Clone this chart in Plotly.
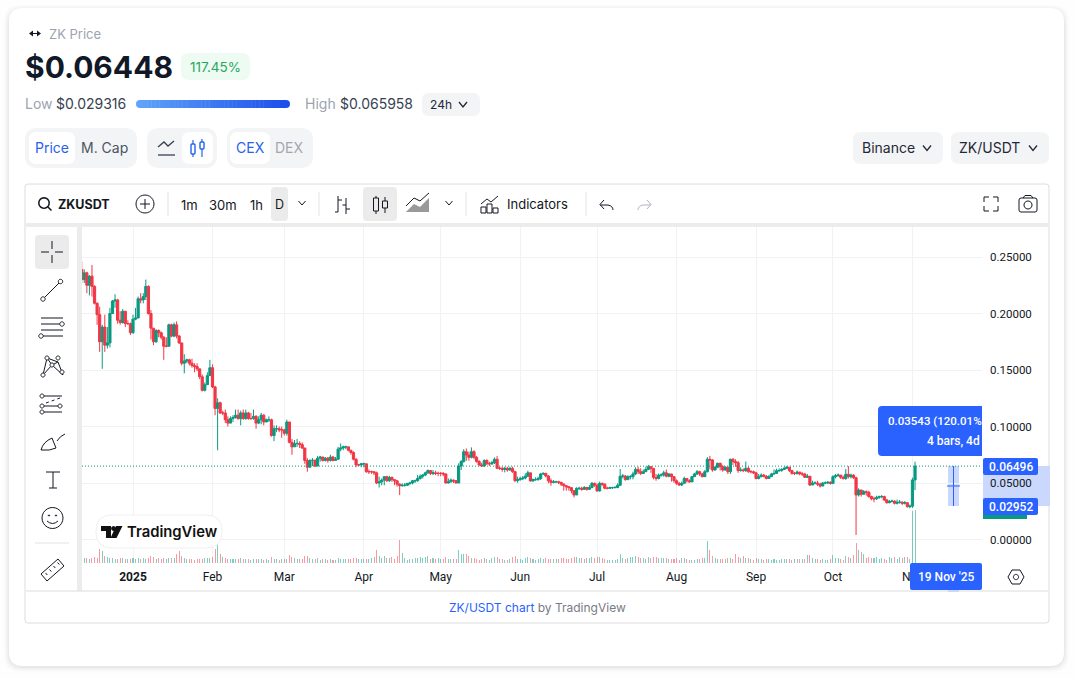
import re, math
import numpy as np
import pandas as pd
import plotly.graph_objects as go

W, H = 1077, 678

# ---------- data (prices in thousandths of USDT, daily candles) ----------
START_DATE = "2024-12-12"
FIRST_OPEN = 239
closes = [
230,236,225,233,224,209,199,175,188,172, 174,200,211,212,194,192,202,191,191,183,
195,196,213,212,215,224,200,187,175,185, 183,179,171,171,190,180,190,180,174,156,
158,159,156,154,153,151,144,132,137,145, 152,135,116,121,112,112,106,103,107,108,
110,107,112,107,112,107,107,109,103,106, 110,104,106,106,92,98,98,97,97,94,
104,86,82,85,85,84,81,70,64,70, 70,65,72,73,70,72,70,73,70,71,
80,81,82,82,79,77,71,66,66,67, 67,60,60,60,59,50,51,52.6,55.6,52,
55,53,52,49,47.6,48,48,49.7,50,52, 52,54,56,57,59,61,58.5,59,58.5,58.5,
58.5,58,50,51,52.6,52,50,65,69,77.7, 74.7,72.7,77.7,72.7,69,66,65,70,67,67,
68,71,63,63,62,63,61.5,63,60,52, 53,53.8,54.4,56,59,51.8,53,53,54,58,
58.5,56.2,52,50.6,51,51,50.6,49,47.6,46.7, 45.9,43.2,39.4,45.3,45.3,44.4,46,44.4,46,49.7,
48,43,49.7,49,45.3,45.3,45.9,45.9,46,48, 56,56.2,53,55.6,55.6,58,62,60,58.5,60,
62,64.4,63,55,54,57,57,59,56,58, 55.6,52,49.7,48.2,49.7,54,52,51,55.6,58,
60,58,55.6,60,71,70.4,61.5,63.9,67.4,64.4, 61.5,63.9,60,71,68.9,68,61,61.5,61,63,
60,60,59,54,55.6,57,56,54,55.6,58, 58.5,61,61,62,63,64,61,58.5,58.5,59.7,
58,58,55,56,48.2,50,50,49,47.3,50, 50,50.6,49.7,55.6,56.5,57,55,54,57.7,55.6,
57,54.7,39.4,43.8,40,42.3,41.8,38,36,36, 37.3,38,38,35,32.6,33.5,34,32,32.9,33,
32,32.6,29,29.5,52.7,65]
highs = [
246,239,237,234,243,225,210,206,190,199, 188,205,212,217,213,202,204,202,194,192,
199,205,215,218,218,230,225,203,187,186, 186,184,180,179,191,191,192,193,181,173,
164,160,160,160,156,156,150,146,139,148, 159,155,136,125,122,114,115,109,109,110,
115,115,114,115,115,113,112,115,110,109, 112,111,107,109,107,101,101,100,100,98,
106,104,89,88,89,87,86,81,72,71, 72,71,74,74,73,73,73,75,74,73,
82,85,83,83,82,79,78,72,67,67, 68,66,62,61,60,60,55.6,54,56,56.4,
56.4,55.6,53,52,49.7,49.7,50,50,51,52.6, 53,57,57.6,58,60,62,61.5,61.5,60.9,60,
59.7,59.7,58.5,54,54,53,52.6,67.4,70.3,80, 80.6,77.7,81.5,79,73.8,70.3,68,70.9,70.9,68.8,
69.7,72.7,73.8,64.4,64.4,64.4,64.4,64.4,64.4,60.9, 55.6,55.6,56.2,58.5,60.9,58.5,54,55,55.6,59,
59.4,59,57,54,52.6,52,52,51,49.7,48.2, 47.3,46,43.2,46.2,46.7,46.7,47.3,46.7,48.2,50.9,
50.3,49.7,51.2,50.3,49.7,46.7,46.7,46.7,47.3,49.7, 62.4,58,57,56.8,57,60,63.9,64.4,63,62,
64.4,66,65,63,58,58.5,58.5,60.9,62,58.5, 58,56.2,53.2,51,51.2,55.6,54,53.2,56.2,59,
61.5,60.9,59,61.5,73,74,71,65,68,68, 66,65,64.4,71.5,72,71,69.5,63.9,63,69,
64.4,61.5,61,60,58,58.5,58,57,57,59, 62,62.7,63,63,64.4,65,64,61.5,59.7,61,
59.7,59.7,59,58,56,52,51.5,52,50.3,51, 51.5,51.8,51.5,56.8,58,58.5,57,56.5,62.4,65,
58.3,57.7,55.6,45.3,43,43.8,43.5,43,38.8,38, 38.8,38.8,39.4,38.8,35.9,35,35.3,34.7,35.3,35,
34,34,32.6,31,54.7,68.9]
lows = [
227,227,218,216,215,208,190,166,151,166, 169,170,200,205,191,190,191,188,190,181,
182,194,197,209,209,212,199,177,172,174, 179,177,159,170,171,179,179,178,173,154,
147,156,154,152,148,149,142,131,131,137, 145,134,110,79,111,110,103,100,103,104,
107,106,101,106,106,106,106,106,98,102, 102,101,104,104,91,87,95,95,90,92,
92,85,75,82,82,81,80,67,60,64, 65,64,65,69,69,69,68,69,69,70,
71,78,79,80,78,75,70,64,65,64, 64,59,58,58,57,49,46,48,48,51,
51,51,48,46.7,39.3,46.7,46.7,47.3,48,48.8, 50,51,53,54,56,58,57,57,57,56,
56,56,49.7,49.7,50.5,50,49.7,50,61.5,68, 69.7,69.7,71.8,70.9,68,65,64.4,64.4,65.9,65,
65.9,66.8,62.3,61.5,60,59.4,60,60.9,59,51, 50.2,52,52.6,53.2,55.6,51.2,51.2,52,52,52.6,
57,55,49.7,47.6,49.7,50.3,49,47.3,43.2,43.2, 43.2,40.8,37.3,39.4,43.8,43.2,43.8,43.2,43.8,45.3,
46.7,42.3,42.3,47.3,44.4,44.4,44.7,44.7,45.3,45.3, 47.3,54,52,53.2,53.2,53.2,57,58,57,58,
60,61.5,59,53.2,52,53.2,55.6,55.6,55,55, 51.2,50.3,48.2,47.3,47.3,49.7,50.3,50.3,50.9,55.6,
57,56.2,55,55.6,59.4,62,60,61,63,61, 60,61,58,58,66,64.4,59,60,59.7,59.7,
59,58.5,58,53.2,53.2,55,55,53.2,54,55.6, 57,58,59.7,60,61.5,62.7,59.7,57.4,57,57.4,
56.8,56.2,54.4,54.4,47.3,48.2,48.8,47.3,46,48.2, 49,49,48.5,49,54,55.6,53.6,53,52.7,54,
54,53.6,4,38,38,40,38.8,37,34.7,33, 35,35.9,36.5,34,31.7,32,33,31,31,31.7,
30.5,31,28.2,27.6,28,43.8]
volumes = [
4,5,5,4,5,6,5,14,12,7, 6,5,5,4,4,5,5,4,4,4, 5,4,5,4,5,4,5,7,6,4, 5,4,5,4,5,5,5,9,12,7,
5,4,4,4,3,4,4,4,5,5, 5,6,14,19,9,6,5,4,4,4, 4,4,5,4,4,4,3,4,4,4, 4,3,4,3,6,4,4,3,4,4,
4,8,6,5,4,4,4,7,7,5, 4,4,5,3,4,4,3,4,3,3, 5,4,4,4,4,4,5,5,4,4, 4,4,4,5,6,13,7,5,7,5,
5,6,4,7,23,10,5,3,4,4, 5,5,6,5,6,7,4,5,4,5, 4,4,6,4,4,4,4,13,9,9, 9,7,5,5,4,3,4,5,4,3,
5,6,6,4,4,3,3,4,6,7, 4,4,3,5,6,5,4,3,4,5, 4,5,4,4,4,4,4,5,5,4, 4,5,6,6,5,5,4,5,5,6,
5,6,6,5,4,3,3,3,3,4, 9,5,4,5,6,6,7,6,5,5, 4,6,5,6,6,5,5,5,5,4, 4,4,5,3,5,5,4,3,3,3,
4,4,5,5,22,13,7,5,4,4, 4,4,5,5,4,9,6,5,7,5, 5,4,3,5,4,4,3,4,4,3, 4,3,3,4,4,4,4,3,4,4,
4,4,4,8,8,5,4,4,3,4, 3,3,4,8,5,5,4,3,7,6, 5,8,20,13,11,9,5,6,5,5, 6,4,5,4,3,6,5,6,4,6,
5,6,6,4,52,53]
LAST_PRICE = 0.06496
price_ticks = [0.0, 0.05, 0.10, 0.15, 0.20, 0.25]
month_ticks = ["2025-01-01","2025-02-01","2025-03-01","2025-04-01","2025-05-01","2025-06-01",
               "2025-07-01","2025-08-01","2025-09-01","2025-10-01","2025-11-01"]
month_labels = ["<b>2025</b>","Feb","Mar","Apr","May","Jun","Jul","Aug","Sep","Oct","Nov"]

c = np.array(closes, float) / 1000
h = np.array(highs, float) / 1000
l = np.array(lows, float) / 1000
o = np.concatenate([[FIRST_OPEN / 1000], c[:-1]])
h = np.maximum(h, np.maximum(o, c)); l = np.minimum(l, np.minimum(o, c))
dates = pd.date_range(START_DATE, periods=len(c), freq="D")

# ---------- pixel helpers for page chrome ----------
fx = lambda x: x / W
fy = lambda y: 1 - y / H
shapes, notes = [], []

def P(d):
    out, isx = [], True
    for t in re.findall(r"[A-Za-z]|-?\d+\.?\d*", d):
        if t.isalpha():
            out.append(t); isx = True
        else:
            out.append(f"{fx(float(t)):.5f}" if isx else f"{fy(float(t)):.5f}")
            isx = not isx
    return " ".join(out)

def poly(d, fill=None, line=None, w=1, layer="below"):
    shapes.append(dict(type="path", xref="paper", yref="paper", path=P(d), layer=layer,
                       fillcolor=fill or "rgba(0,0,0,0)",
                       line=dict(color=line or "rgba(0,0,0,0)", width=w if line else 0)))

def rect(x0, y0, x1, y1, fill=None, line=None, w=1, layer="below"):
    poly(f"M {x0} {y0} L {x1} {y0} L {x1} {y1} L {x0} {y1} Z", fill, line, w, layer)

def rr(x0, y0, x1, y1, r, fill=None, line=None, w=1, layer="below"):
    poly(f"M {x0+r} {y0} L {x1-r} {y0} Q {x1} {y0} {x1} {y0+r} L {x1} {y1-r} Q {x1} {y1} {x1-r} {y1} "
         f"L {x0+r} {y1} Q {x0} {y1} {x0} {y1-r} L {x0} {y0+r} Q {x0} {y0} {x0+r} {y0} Z", fill, line, w, layer)

def ln(x0, y0, x1, y1, color="#131722", w=1, layer="below", dash=None):
    s = dict(type="line", xref="paper", yref="paper", x0=fx(x0), y0=fy(y0), x1=fx(x1), y1=fy(y1),
             layer=layer, line=dict(color=color, width=w))
    if dash: s["line"]["dash"] = dash
    shapes.append(s)

def circ(cx, cy, r, fill=None, line="#131722", w=1, layer="below"):
    pts = [(cx + r * math.cos(a * math.pi / 12), cy + r * math.sin(a * math.pi / 12)) for a in range(24)]
    poly("M " + " L ".join(f"{a:.2f} {b:.2f}" for a, b in pts) + " Z", fill, line, w, layer)

def chev(cx, cy, color="#374151", dx=4, dy=2.5, w=1.3):
    poly(f"M {cx-dx} {cy-dy} L {cx} {cy+dy} L {cx+dx} {cy-dy}", None, color, w)

def T(x, y, text, size=13, color="#131722", anchor="left", font="Inter", weight=None):
    f = dict(family=font, size=size, color=color)
    if weight: f["weight"] = weight
    notes.append(dict(xref="paper", yref="paper", x=fx(x), y=fy(y), text=text, showarrow=False,
                      xanchor=anchor, yanchor="middle", font=f, borderpad=0, borderwidth=0))

GREY_BTN = "#f3f4f6"; BLUE = "#2563eb"; TV_BLUE = "#2962ff"; INK = "#131722"; HL = "#ebebeb"
PAGE = "#fefefe"

# ---------- card ----------
for i, a in enumerate([0.010, 0.012, 0.016, 0.020, 0.024]):
    g = 5 - i
    rr(9 - g, 8 - g + 2, 1064 + g, 666 + g + 1, 16, f"rgba(0,0,0,{a})")
rr(9, 8, 1064, 666, 14, "#ffffff")

# ---------- header ----------
poly("M 29 33.5 L 33 30.5 L 33 36.5 Z", "#111827"); poly("M 41 33.5 L 37 30.5 L 37 36.5 Z", "#111827")
rect(32, 33, 38, 34, "#111827")
T(49, 34, "ZK Price", 13, "#9ca3af")
T(25, 66.5, "$0.06448", 30, "#111827", weight=700)
rr(181, 53, 250, 80, 8, "#eefbf2")
T(215.5, 66.5, "117.45%", 13.5, "#27a85f", "center")
T(25, 104, "Low", 14, "#9ca3af"); T(56, 104, "$0.029316", 14, "#374151")
bar_colors = np.linspace(0, 1, 40)
for i, t in enumerate(bar_colors):
    x0 = 136 + i * 154 / 40
    col = f"rgb({int(96-67*t)},{int(165-87*t)},{int(250-15*t)})"
    if i == 0:
        rr(136, 100, 146, 108, 4, col)
    elif i == 39:
        rr(280, 100, 290, 108, 4, col)
    if 1 < i < 38 or i in (1, 38):
        rect(round(x0, 1), 100, round(x0 + 154 / 40 + 0.4, 1), 108, col)
T(305, 104, "High", 14, "#9ca3af"); T(340, 104, "$0.065958", 14, "#374151")
rr(422, 93, 480, 116, 7, GREY_BTN)
T(430, 104.5, "24h", 12, "#1f2937"); chev(463, 104.5, "#1f2937")

# ---------- button rows ----------
rr(25, 128, 137, 168, 12, GREY_BTN); rr(29, 132, 75, 164, 8, "#ffffff")
T(52, 148, "Price", 14, BLUE, "center"); T(104, 148, "M. Cap", 14, "#4b5563", "center")
rr(147, 128, 217, 168, 12, GREY_BTN); rr(182, 132, 213, 164, 8, "#ffffff")
poly("M 158 147 L 164 142 L 168 146 L 174 141", None, "#374151", 1.3); ln(158, 155, 175, 155, "#374151", 1.3)
ln(193, 140, 193, 157, BLUE, 1.2); rr(191, 144, 195, 154, 1, "#ffffff", BLUE, 1.4)
ln(202, 139, 202, 157, BLUE, 1.2); rr(200, 142, 204, 149, 1, "#ffffff", BLUE, 1.4)
rr(227, 128, 313, 168, 12, GREY_BTN); rr(230, 132, 270, 164, 8, "#ffffff")
T(250, 148, "CEX", 14, BLUE, "center"); T(289, 148, "DEX", 14, "#a3a8b0", "center")
rr(853, 132, 943, 164, 8, GREY_BTN); T(862, 148, "Binance", 14, "#1f2937"); chev(927, 148, "#1f2937")
rr(951, 132, 1049, 164, 8, GREY_BTN); T(959, 148, "ZK/USDT", 14, "#1f2937"); chev(1033, 148, "#1f2937")

# ---------- widget frame ----------
rr(25, 184, 1049, 623, 3, "#ffffff", "#dcdcdc", 1)
rect(26, 223, 1048, 227, "#ececec")
rect(77, 227, 82, 591, "#ececec")
ln(26, 591, 1048, 591, "#dcdcdc", 1)
notes_footer = "<span style='color:#2962ff'>ZK/USDT chart</span><span style='color:#787b86'> by TradingView</span>"
T(537, 607, notes_footer, 12, "#787b86", "center", "Inter")

# top toolbar
circ(44, 203, 5.2, None, INK, 1.5); ln(48, 207, 51.5, 210.5, INK, 1.5)
T(58, 204, "ZKUSDT", 12.5, INK, weight=700)
circ(145, 204, 9); ln(140, 204, 150, 204); ln(145, 199, 145, 209)
for x in (168, 319, 466, 586):
    ln(x, 192, x, 216, "#e3e3e3")
T(189, 204.5, "1m", 13, INK, "center"); T(223, 204.5, "30m", 13, INK, "center"); T(256, 204.5, "1h", 13, INK, "center")
rr(271, 187, 288, 221, 4, HL); T(279.5, 204.5, "D", 12.5, INK, "center")
chev(302, 203, INK, 3.5, 2, 1)
ln(338, 196, 338, 212); ln(338, 212, 335, 212); ln(338, 200, 342, 200); ln(346, 198, 346, 214); ln(346, 205, 342.5, 205); ln(346, 209, 350, 209)
rr(363, 187, 397, 221, 4, HL)
ln(376, 196, 376, 214); rect(373.5, 198, 378.5, 211, HL, INK); ln(385, 197, 385, 213); rect(382.5, 201, 387.5, 208, HL, INK)
poly("M 406 212 L 414 204 L 420 207 L 429 198 L 429 212 Z", "#9a9a9a", None)
poly("M 406 206 L 414 198 L 420 201 L 429 193", None, INK, 1)
chev(449, 203, INK, 3.5, 2, 1)
poly("M 481 204 L 487 199 L 491 202 L 498 196", None, INK)
for a, b in ((481, 207), (487, 204), (493, 208)):
    rect(a, b, a + 5, 213, None, INK)
T(507, 204, "Indicators", 13, INK)
poly("M 600 205 L 608 205 Q 613 206 613 210 M 604 200 L 600 204.5 L 604 209", None, INK)
poly("M 651 205 L 643 205 Q 638 206 638 210 M 647 200 L 651 204.5 L 647 209", None, "#b2b5be")
for a, b, sa, sb in ((984, 197, 1, 1), (998, 197, -1, 1), (984, 211, 1, -1), (998, 211, -1, -1)):
    poly(f"M {a+5*sa} {b} L {a} {b} L {a} {b+5*sb}", None, INK, 1)
rr(1019, 198, 1037, 212, 2, None, INK); circ(1028, 205, 4); poly("M 1023 198 L 1025 195.5 L 1031 195.5 L 1033 198", None, INK)

# left toolbar
rr(35, 235, 69, 269, 4, HL)
ln(41, 252, 49, 252); ln(55, 252, 63, 252); ln(52, 241, 52, 249); ln(52, 255, 52, 263)
ln(44, 298, 60, 282); circ(43, 299, 2.2, "#ffffff"); circ(60.5, 281.5, 2.2, "#ffffff")
for y in (318, 324, 330, 336):
    ln(41, y, 63, y)
circ(62, 324, 2.2, "#ffffff"); circ(41, 336, 2.2, "#ffffff")
poly("M 43 375 L 47 358 L 58 362 L 63 375 M 47 358 L 52 365 L 58 362 M 43 375 L 52 365 L 63 375", None, INK)
for a, b in ((43, 375), (47, 358), (58, 358), (52, 365), (62, 372)):
    circ(a, b, 2, "#ffffff")
for y in (396, 406, 412):
    ln(42, y, 62, y)
circ(42, 396, 2, "#ffffff"); circ(42, 406, 2, "#ffffff"); circ(60, 406, 2, "#ffffff"); circ(42, 412, 2, "#ffffff")
ln(46, 403, 60, 398, INK, 1, dash="dot")
poly("M 41 450 Q 43 442 52 438 L 56 448 Q 50 451 41 450 Z M 57 441 Q 60 436 65 434", None, INK)
ln(46, 472, 60, 472); ln(53, 472, 53, 488); ln(49, 488, 57, 488)
circ(52.5, 518, 10.5); circ(49, 515.5, 0.6, INK); circ(56, 515.5, 0.6, INK)
poly("M 47 521 Q 52.5 526 58 521", None, INK)
ln(35, 543, 69, 543, "#e3e3e3")
poly("M 41 574 L 58 559 L 64 566 L 47 581 Z", None, INK)
for a, b in ((45.5, 573), (49.5, 569.5), (53.5, 566), (57.5, 562.5)):
    ln(a, b, a + 1.8, b + 2, INK, 1)

# ---------- overlays above the plot ----------
band = "#c9d8fc"
rect(948, 466, 959, 506, band, layer="below")
rect(948, 563, 959, 592, band, layer="above")
rect(983, 466, 1050, 506, band, layer="below")
ln(953.5, 466, 953.5, 506, TV_BLUE, 1, "above"); ln(947, 486, 960, 486, TV_BLUE, 1, "above")
poly("M 882 406 L 982 406 L 982 456 L 882 456 Q 878 456 878 452 L 878 410 Q 878 406 882 406 Z", TV_BLUE, layer="above")
T(982, 421, "0.03543 (120.01%", 11.5, "#ffffff", "right", "Roboto", 500)
T(980, 441, "4 bars, 4d", 12, "#ffffff", "right", "Roboto", 500)
rect(983, 505, 1027, 519, "#089981", layer="above")
rr(983, 458, 1038, 475, 2, TV_BLUE, layer="above"); T(1010.5, 466.5, "0.06496", 12, "#ffffff", "center", "Roboto", 500)
rr(983, 498, 1038, 515, 2, TV_BLUE, layer="above"); T(1010.5, 506.5, "0.02952", 12, "#ffffff", "center", "Roboto", 500)
rr(910, 563, 982, 590, 2, TV_BLUE, layer="above"); T(946, 577, "19 Nov '25", 12, "#ffffff", "center", "Roboto", 500)
poly("M 1008 577 L 1012 570 L 1020 570 L 1024 577 L 1020 584 L 1012 584 Z", None, INK); circ(1016, 577, 2.6)
# TradingView badge
rr(96, 515, 222, 548, 16, "rgba(255,255,255,0.95)", "#efefef", 1, "above")
poly("M 101 526 L 111 526 L 111 538 L 106 538 L 106 531 L 101 531 Z", "#111111", layer="above")
circ(113.5, 528.5, 2.4, "#111111", None, layer="above")
poly("M 116 526 L 122.5 526 L 116.5 538 L 110.5 538 Z", "#111111", layer="above")
T(127, 532, "TradingView", 14.8, "#111111", "left", "Inter", 600)

# ---------- price line ----------
shapes.append(dict(type="line", xref="paper", yref="y", x0=fx(82), x1=fx(982), y0=LAST_PRICE, y1=LAST_PRICE,
                   layer="above", line=dict(color="#089981", width=1, dash="1px,2px")))

# ---------- traces ----------
UP, DOWN = "#089981", "#f23645"
vol_colors = ["rgba(8,153,129,0.5)" if a >= b else "rgba(242,54,69,0.5)" for a, b in zip(c, o)]
fig = go.Figure()
fig.add_trace(go.Bar(x=dates, y=volumes, yaxis="y2", marker=dict(color=vol_colors, line=dict(width=0)),
                     width=86400000 * 0.4, hoverinfo="skip", showlegend=False))
fig.add_trace(go.Candlestick(x=dates, open=o, high=h, low=l, close=c, whiskerwidth=0,
                             increasing=dict(line=dict(color=UP, width=1), fillcolor=UP),
                             decreasing=dict(line=dict(color=DOWN, width=1), fillcolor=DOWN),
                             hoverinfo="skip", showlegend=False))

D0 = pd.Timestamp("2025-01-01")
PX_DAY = 2.564
xr = [D0 + pd.Timedelta(days=(82 - 133) / PX_DAY), D0 + pd.Timedelta(days=(982 - 133) / PX_DAY)]
yr = [(539.5 - 563) / 1130, (539.5 - 227) / 1130]
GRID = "#f1f2f5"
fig.update_layout(
    width=W, height=H, autosize=False, margin=dict(l=0, r=0, t=0, b=0),
    paper_bgcolor=PAGE, plot_bgcolor="rgba(0,0,0,0)", showlegend=False, bargap=0, boxgap=0.15, boxgroupgap=0,
    font=dict(family="Roboto", color=INK, size=12),
    xaxis=dict(domain=[fx(82), fx(982)], range=xr, type="date", rangeslider=dict(visible=False),
               tickmode="array", tickvals=month_ticks, ticktext=month_labels, showgrid=True, gridcolor=GRID,
               gridwidth=1, zeroline=False, showline=False, ticks="", tickangle=0, ticklabelstandoff=5,
               tickfont=dict(family="Roboto", size=12, color=INK), fixedrange=True),
    yaxis=dict(domain=[fy(563), fy(227)], range=yr, side="right", tickmode="array", tickvals=price_ticks,
               tickformat=".5f", showgrid=True, gridcolor=GRID, gridwidth=1, zeroline=False, showline=False,
               ticks="", ticklabelstandoff=7, tickfont=dict(family="Roboto", size=11.5, color=INK), fixedrange=True),
    yaxis2=dict(domain=[fy(563), fy(227)], range=[0, 336], overlaying="y", anchor="x", visible=False, fixedrange=True),
    shapes=shapes, annotations=notes,
)
fig.write_html("out.html", post_script=f"document.body.style.margin='0';document.body.style.background='{PAGE}';",
               config=dict(displayModeBar=False))
print(len(c), len(h), len(l), len(volumes))
